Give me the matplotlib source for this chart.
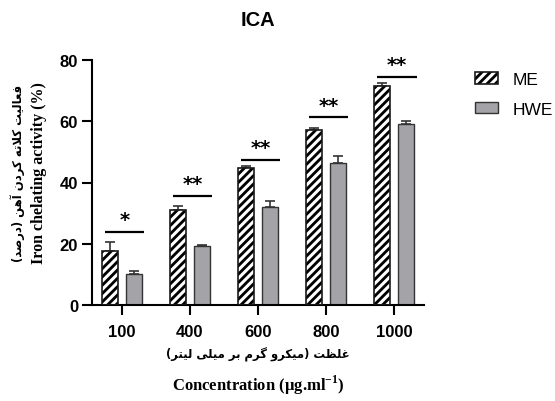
import matplotlib
matplotlib.use("Agg")
import matplotlib.pyplot as plt
import numpy as np
from matplotlib.patches import Patch

# ---------------- data ----------------
categories = ["100", "400", "600", "800", "1000"]
me_values = [17.7, 31.0, 44.7, 57.1, 71.6]
me_errors = [3.0, 1.4, 0.6, 0.7, 0.8]
hwe_values = [10.1, 19.3, 32.0, 46.3, 59.0]
hwe_errors = [0.9, 0.3, 2.1, 2.4, 1.2]
sig_labels = ["*", "**", "**", "**", "**"]
sig_heights = [23.9, 35.6, 47.3, 61.3, 74.4]
yticks = [0, 20, 40, 60, 80]
series_names = ["ME", "HWE"]

title = "ICA"
ylabel_fa = "فعالیت کلاته کردن آهن (درصد)"
ylabel_en = "Iron chelating activity (%)"
xlabel_fa = "غلظت (میکرو گرم بر میلی لیتر)"
xlabel_en = r"Concentration (µg.ml$^{\mathbf{-1}}$)"

# ---------------- minimal Arabic-script shaping ----------------
FORMS = {
    'ا': ('\uFE8D', '\uFE8E', None, None),
    'آ': ('\uFE81', '\uFE82', None, None),
    'ب': ('\uFE8F', '\uFE90', '\uFE91', '\uFE92'),
    'ت': ('\uFE95', '\uFE96', '\uFE97', '\uFE98'),
    'د': ('\uFEA9', '\uFEAA', None, None),
    'ر': ('\uFEAD', '\uFEAE', None, None),
    'ص': ('\uFEB9', '\uFEBA', '\uFEBB', '\uFEBC'),
    'ظ': ('\uFEC5', '\uFEC6', '\uFEC7', '\uFEC8'),
    'ع': ('\uFEC9', '\uFECA', '\uFECB', '\uFECC'),
    'غ': ('\uFECD', '\uFECE', '\uFECF', '\uFED0'),
    'ف': ('\uFED1', '\uFED2', '\uFED3', '\uFED4'),
    'ل': ('\uFEDD', '\uFEDE', '\uFEDF', '\uFEE0'),
    'م': ('\uFEE1', '\uFEE2', '\uFEE3', '\uFEE4'),
    'ن': ('\uFEE5', '\uFEE6', '\uFEE7', '\uFEE8'),
    'ه': ('\uFEE9', '\uFEEA', '\uFEEB', '\uFEEC'),
    'و': ('\uFEED', '\uFEEE', None, None),
    'ی': ('\uFBFC', '\uFBFD', '\uFBFE', '\uFBFF'),
    'ک': ('\uFB8E', '\uFB8F', '\uFB90', '\uFB91'),
    'گ': ('\uFB92', '\uFB93', '\uFB94', '\uFB95'),
}
LAM_ALEF = {'ا': ('\uFEFB', '\uFEFC'), 'آ': ('\uFEF5', '\uFEF6')}
MIRROR = {'(': ')', ')': '('}


def shape_rtl(s):
    out = []
    i = 0
    n = len(s)
    while i < n:
        c = s[i]
        prev = s[i - 1] if i > 0 else None
        nxt = s[i + 1] if i < n - 1 else None
        jp = prev in FORMS and FORMS[prev][2] is not None
        if c == 'ل' and nxt in LAM_ALEF:
            out.append(LAM_ALEF[nxt][1 if jp else 0])
            i += 2
            continue
        if c in FORMS:
            f = FORMS[c]
            jn = f[2] is not None and nxt in FORMS
            if jp and jn:
                out.append(f[3])
            elif jp:
                out.append(f[1])
            elif jn:
                out.append(f[2])
            else:
                out.append(f[0])
        else:
            out.append(MIRROR.get(c, c))
        i += 1
    return ''.join(out[::-1])


# ---------------- figure ----------------
plt.rcParams['hatch.linewidth'] = 2.2
plt.rcParams['mathtext.fontset'] = 'custom'
plt.rcParams['mathtext.rm'] = 'Liberation Serif'
plt.rcParams['mathtext.bf'] = 'Liberation Serif:bold'

W, H = 555, 402
fig = plt.figure(figsize=(W / 100, H / 100), dpi=100)
ax = fig.add_axes([92 / W, 1 - 306 / H, (424 - 92) / W, (306 - 61) / H])

x = np.arange(len(categories))
bw = 0.235
off = 0.18
me_color = 'black'
hwe_color = '#a4a4a8'
edge = '#1a1a1a'

# ME: black with white diagonal hatch, outlined
ax.bar(x - off, me_values, bw, color=me_color, edgecolor='white', hatch='////',
       linewidth=0, zorder=2)
ax.bar(x - off, me_values, bw, facecolor='none', edgecolor=edge, linewidth=1.2,
       zorder=3)
ax.errorbar(x - off, me_values, yerr=[np.zeros(len(me_values)), me_errors],
            fmt='none', ecolor='#333333', elinewidth=1.2, capsize=3.5,
            capthick=1.2, zorder=1)
# HWE
ax.bar(x + off, hwe_values, bw, color=hwe_color, edgecolor='#333333',
       linewidth=1.0, zorder=2)
ax.errorbar(x + off, hwe_values, yerr=[np.zeros(len(hwe_values)), hwe_errors],
            fmt='none', ecolor='#333333', elinewidth=1.2, capsize=3.5,
            capthick=1.2, zorder=1)

# significance lines and stars
for xi, lab, h in zip(x, sig_labels, sig_heights):
    ax.plot([xi - 0.25, xi + 0.33], [h, h], color='black', lw=1.6,
            solid_capstyle='butt', clip_on=False)
    ax.text(xi + 0.04, h + 4.0, lab, ha='center', va='center',
            fontsize=14, fontweight='bold', family='DejaVu Sans')

ax.set_xlim(-0.44, 4.44)
ax.set_ylim(0, 80)
ax.set_yticks(yticks)
ax.set_xticks(x)
ax.set_xticklabels(categories)
for s in ['top', 'right']:
    ax.spines[s].set_visible(False)
for s in ['left', 'bottom']:
    ax.spines[s].set_linewidth(1.5)
ax.tick_params(axis='both', width=1.5, length=7, labelsize=12, pad=3)
ax.tick_params(axis='x', pad=7)
for lbl in ax.get_xticklabels() + ax.get_yticklabels():
    lbl.set_fontfamily('Liberation Sans')
    lbl.set_fontweight('bold')

# legend
h_me = (Patch(facecolor=me_color, edgecolor='white', hatch='////', linewidth=0),
        Patch(facecolor='none', edgecolor=edge, linewidth=1.2))
h_hwe = Patch(facecolor=hwe_color, edgecolor='#333333', linewidth=1.0)
leg = fig.legend([h_me, h_hwe], series_names, loc='upper left',
                 bbox_to_anchor=(475 / W, 1 - 73 / H), frameon=False,
                 prop={'family': 'Liberation Sans', 'size': 12.5},
                 handlelength=1.3, handleheight=0.65, labelspacing=0.85,
                 handletextpad=0.85, borderaxespad=0, borderpad=0)

# titles and labels
fig.text(258 / W, 1 - 20 / H, title, ha='center', va='center', fontsize=14.5,
         fontweight='bold', family='Liberation Sans')
fig.text(18 / W, 1 - 173 / H, shape_rtl(ylabel_fa), rotation=90, ha='center',
         va='center', fontsize=8.4, fontweight='bold', family='DejaVu Sans')
fig.text(39 / W, 1 - 173 / H, ylabel_en, rotation=90, ha='center',
         va='center', fontsize=11.5, fontweight='bold', family='Liberation Serif')
fig.text(258 / W, 1 - 355 / H, shape_rtl(xlabel_fa), ha='center', va='center',
         fontsize=8.4, fontweight='bold', family='DejaVu Sans')
fig.text(258 / W, 1 - 385 / H, xlabel_en, ha='center', va='center',
         fontsize=12, fontweight='bold', family='Liberation Serif')

fig.savefig('out.png', dpi=100)
